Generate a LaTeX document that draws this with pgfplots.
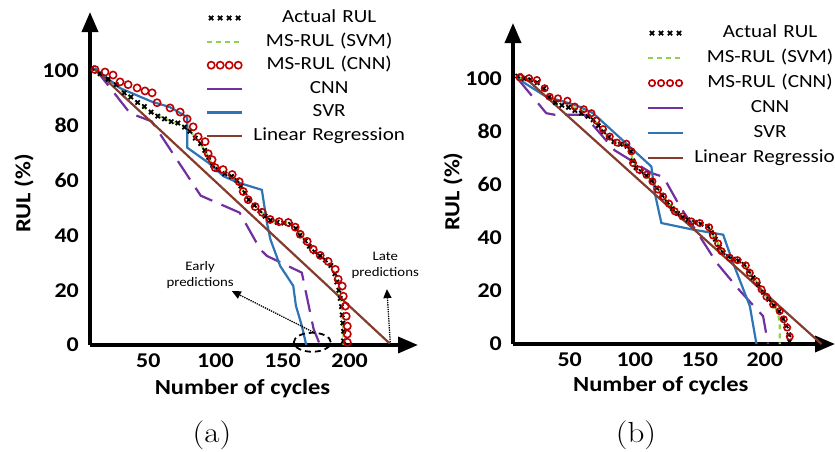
\documentclass[border=0pt]{standalone}
\usepackage{pgfplots}
\pgfplotsset{compat=1.18}
\usetikzlibrary{arrows.meta}
\usepackage{fontspec}
\newfontfamily\carlito[FakeStretch=1.14]{Carlito}
\definecolor{cgreen}{RGB}{146,208,80}
\definecolor{cred}{RGB}{192,0,0}
\definecolor{cpurple}{RGB}{112,48,160}
\definecolor{cblue}{RGB}{46,117,182}
\definecolor{cbrown}{RGB}{132,60,44}
\pgfplotsset{
  rulaxis/.style={
    scale only axis, axis lines=left, clip=false,
    axis line style={line width=3.5pt, -{Triangle[length=20pt,width=16pt]}},
    xtick={50,100,150,200}, ytick={0,20,40,60,80,100},
    major tick length=0pt,
    /pgf/number format/assume math mode=true,
    tick label style={font=\carlito\bfseries\fontsize{21}{24}\selectfont, inner sep=0pt},
    xticklabel style={anchor=north, yshift=-9pt},
    yticklabel style={anchor=east, xshift=-11pt},
    label style={font=\carlito\bfseries\fontsize{21.5}{25}\selectfont},
    xlabel={Number of cycles}, ylabel={RUL (\%)},
    legend style={draw=none, fill=none, anchor=north west, inner sep=0pt, outer sep=0pt,
      column sep=0pt,
      nodes={inner sep=0pt, text width=170pt, align=center, text height=13pt, text depth=4pt,
        font=\carlito\fontsize{18.5}{21}\selectfont}},
  },
  markleg/.style={legend image code/.code={
      \path[##1, draw=none] plot coordinates {(4pt,0pt) (13pt,0pt) (22pt,0pt) (31pt,0pt)};
      \path[draw=none, fill=none] (0pt,0pt) -- (37pt,0pt);}},
  lineleg/.style={legend image code/.code={
      \draw[##1] (0pt,0pt) -- (35pt,0pt);
      \path[draw=none, fill=none] (0pt,0pt) -- (37pt,0pt);}},
  solidleg/.style={legend image code/.code={
      \draw[##1, solid] (0pt,0pt) -- (35pt,0pt);
      \path[draw=none, fill=none] (0pt,0pt) -- (37pt,0pt);}},
  actual/.style={only marks, mark=x, black, mark size=3pt, mark options={line width=1.8pt}, markleg},
  svm/.style={no markers, color=cgreen, line width=2.2pt, dash pattern=on 5pt off 4pt, lineleg},
  mscnn/.style={only marks, mark=o, mark size=3.6pt, mark options={line width=1.6pt, draw=cred}, color=cred, markleg},
  cnn/.style={no markers, color=cpurple, line width=2.2pt, dash pattern=on 22pt off 10pt, solidleg},
  svr/.style={no markers, color=cblue, line width=2.2pt, lineleg},
  linreg/.style={no markers, color=cbrown, line width=2.2pt, lineleg},
}
\begin{document}
\begin{tikzpicture}
\useasboundingbox (0,0) rectangle (835pt,451pt);
% ---------------- (a) ----------------
\begin{axis}[rulaxis,
  at={(90pt,106pt)}, anchor=south west,
  width=328pt, height=333pt,
  xmin=6.5, xmax=251, ymin=0, ymax=121.5,
  xlabel style={at={(axis description cs:0.465,-0.132)}, anchor=center},
  ylabel style={at={(axis description cs:-0.201,0.456)}, anchor=center},
  legend style={at={(axis description cs:0.354,1.0075)}, row sep=6.6pt},
]
\addplot[actual] coordinates {(8,101)(14,99)(20,97)(26,95)(32,92)(37,90.5)(42,88.5)(47,87)(52,85)(57,83.5)(62,82.5)(67,81.5)(72,81)(77,79.5)(81,78)(85,75.5)(89,73.5)(92,71)(95,68.5)(98,65.5)(102,64)(107,62.5)(112,61.5)(116,60)(119,58)(122,55.5)(125,53)(129,51)(133,49)(137,47)(141,45.5)(146,44.8)(151,44.5)(156,44)(160,42.5)(163,40)(167,38)(170,36)(174,34)(178,32.5)(182,31)(186,29)(189,26)(190.5,23)(192,20)(193,17)(194,14)(194.5,11)(195,8)(195.5,5)(195.5,1.5)};
\addlegendentry{Actual RUL}
\addplot[svm] coordinates {(8,101)(20,97)(29,93.5)(39,89.5)(51,85.2)(61,82.8)(74,80.4)(81,78)(88.6,73.7)(94.6,68.8)(98.3,65.2)(108.5,62.8)(117,59.5)(121,56)(125,53)(130,50.5)(135,48.2)(141,45.5)(148,44.6)(155,44.5)(160,42.5)(164,40)(169,37.3)(173,34.7)(178,32.5)(184,30)(188,27)(190,23.5)(192,20)(193.5,16)(194.5,12)(195,8)(195.5,4)(195.5,0)};
\addlegendentry{MS-RUL (SVM)}
\addplot[mscnn] coordinates {(10.2,100.5)(17.7,99.6)(23.7,98.5)(28.9,96)(34.9,95)(41.6,93.8)(47.5,92.7)(52.8,92)(56.5,88.4)(66.2,86.5)(73.7,85)(78.9,82.5)(83.4,79.6)(87.1,76)(92.3,74.2)(94.6,69.8)(97.5,67.6)(99.8,64.7)(105.7,64)(112.5,62.2)(117.7,59.6)(120.7,56)(124.4,53)(129.6,50.5)(134.9,48.4)(140.8,45.8)(147.5,45)(154.3,44.7)(159.5,43)(163.2,40.4)(168.4,37.8)(172.9,34.9)(178.1,32.7)(184,30.5)(189.3,27.6)(191.5,24)(194.5,21.5)(195.3,17.8)(196.8,14.2)(197.5,10.5)(198.3,6.9)(198.3,4)(198.3,1)};
\addlegendentry{MS-RUL (CNN)}
\addplot[cnn] coordinates {(10,101)(36.3,84.6)(52.5,81.6)(89,54.5)(118,48.3)(133.4,34.9)(138.4,32.5)(164.4,26.4)(173.2,5.8)(178,0)};
\addlegendentry{CNN}
\addplot[svr] coordinates {(10,101)(29,93.7)(52.5,88.8)(66,86.8)(76,84)(79,83)(79,72)(95,66.4)(106,61.6)(116,59.4)(134.6,56.6)(138.4,44.6)(141,38.5)(148.3,28.8)(158,21.6)(160,14.3)(164.4,7)(167.7,0)};
\addlegendentry{SVR}
\addplot[linreg] coordinates {(10,100.6)(230,0.5)};
\addlegendentry{Linear Regression}
% annotations
\draw[black, line width=1.8pt, dash pattern=on 6pt off 4pt] (axis cs:172.2,1) ellipse [x radius=18.5pt, y radius=9.5pt];
\draw[black, line width=1.3pt, densely dotted, -{Triangle[length=9pt,width=8pt]}] (axis cs:172.9,4.7) -- (axis cs:112.2,19.7);
\draw[black, line width=1.3pt, densely dotted, -{Triangle[length=9pt,width=8pt]}] (axis cs:230.3,1) -- (axis cs:227.8,20.4);
\node[align=center, font=\carlito\fontsize{13}{16}\selectfont, inner sep=0pt] at (axis cs:88.6,25.5) {Early\\predictions};
\node[align=center, font=\carlito\fontsize{13}{16}\selectfont, inner sep=0pt] at (axis cs:226.6,29) {Late\\predictions};
\end{axis}
% ---------------- (b) ----------------
\begin{axis}[rulaxis,
  at={(513pt,107pt)}, anchor=south west,
  width=322pt, height=321pt,
  xmin=6.4, xmax=254, ymin=0, ymax=121,
  xlabel style={at={(axis description cs:0.459,-0.131)}, anchor=center},
  ylabel style={at={(axis description cs:-0.186,0.475)}, anchor=center},
  legend style={at={(axis description cs:0.416,0.995)}, row sep=8pt},
]
\addplot[actual] coordinates {(10,101)(15,100)(20,99.6)(25,98.5)(30,96.3)(34,93)(39,91)(44,90)(49,89.2)(54,88)(59,87)(64,85.8)(68,84.5)(72,82.3)(76,80)(80,78)(84,76.3)(89,75.3)(94,74.5)(97,72.5)(98.5,69)(101,66.5)(105,65)(109,63.4)(113,61.5)(117,58.8)(121,56)(125,53.5)(129,51)(133,49.2)(137,47.8)(141,46.8)(146,45.8)(151,45.2)(156,44.3)(159,42)(162,39.5)(165,36.5)(168,34.5)(172,33)(176,32)(180,31.3)(184,30)(187.5,27.5)(191,25)(195,22.5)(199,19.5)(203,16.8)(207,14.5)(211,12.3)(214,9.5)(216.5,6.8)(218.5,3.5)(219,1)};
\addlegendentry{Actual RUL}
\addplot[svm] coordinates {(10,100.5)(19,99.8)(25,98.5)(31,96)(35,93)(41,91.5)(48,90.5)(54,89)(61,87.5)(67,85.5)(71,83)(76,80)(81,77.5)(86,76)(93,75)(97,72.5)(99,68)(103,65.7)(109,63.6)(114,61)(118,58)(122,55.5)(126.5,52.8)(131,50)(137,48)(144,46.2)(150,45.5)(157,44)(160,41)(164,38)(167,35)(173,32.5)(179,31.5)(185,29.5)(188.5,26.8)(193.6,23.5)(197.5,20.5)(201.3,17.8)(206.4,14.9)(210,12)(211.5,8)(211.5,0)};
\addlegendentry{MS-RUL (SVM)}
\addplot[mscnn, mark size=3.2pt] coordinates {(11.5,100.5)(18.7,100.2)(24.8,99.5)(30.8,96.4)(34.6,93.2)(41,92.6)(48.2,91.7)(53.8,89.5)(60.8,88.5)(66.7,87)(70.5,84.2)(75.6,81)(80.8,78.2)(86.4,75.9)(93.6,75.5)(97.5,72.6)(98.7,68.2)(103.3,65.7)(109,63.8)(113.6,61.3)(117.9,58.2)(121.8,55.6)(126.4,52.9)(130.8,50)(136.7,48.1)(143.6,46.2)(150,45.6)(157.2,44)(160.2,40.9)(164.1,37.9)(166.7,35)(173.1,32.5)(179,31.6)(185.4,29.6)(188.5,26.8)(193.6,23.7)(197.5,20.6)(201.3,17.8)(206.4,14.9)(211.5,12.4)(214.6,9.3)(217.2,6.2)(219.2,2.8)};
\addlegendentry{MS-RUL (CNN)}
\addplot[cnn] coordinates {(10,100)(32,87)(38.5,86.4)(61,86.4)(84.6,73)(113,64.4)(122,63)(134.6,52)(150,40.6)(163,30.6)(181,20)(198.7,10.5)(202.5,0)};
\addlegendentry{CNN}
\addplot[svr] coordinates {(10,100)(32,93.2)(55,90)(68,87)(112.8,66.9)(115.4,56.9)(120.5,45.6)(145,43.1)(168,41.2)(175.6,30.6)(188.5,14.3)(193.6,0)};
\addlegendentry{SVR}
\addplot[linreg] coordinates {(12,102)(243.6,0)};
\addlegendentry{Linear Regression}
\end{axis}
\node at (212pt,16pt) {\fontsize{29}{34}\selectfont\scalebox{1.14}[1]{(a)}};
\node at (636pt,16pt) {\fontsize{29}{34}\selectfont\scalebox{1.14}[1]{(b)}};
\end{tikzpicture}
\end{document}
